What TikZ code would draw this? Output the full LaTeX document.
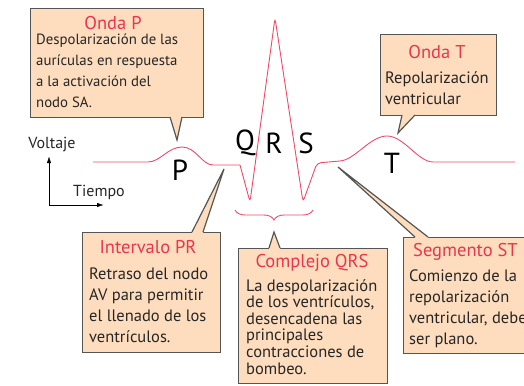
\documentclass[tikz,border=0pt]{standalone}
\usepackage{fontspec}
\setmainfont{PT Sans}
\usetikzlibrary{arrows.meta,positioning,calc,decorations.pathreplacing}
\definecolor{ecgred}{HTML}{EE4A68}
\definecolor{titred}{HTML}{E8364F}
\definecolor{peach}{HTML}{FDDDBD}
\definecolor{boxgray}{HTML}{555555}
\definecolor{txtgray}{HTML}{262626}

\begin{document}
\begin{tikzpicture}[
    x=1pt, y=-1pt,
    bubble/.style={draw=boxgray, line width=1.2pt, fill=peach, anchor=north west, inner sep=0pt},
    linea/.style={draw=boxgray, line width=1.2pt, line join=miter},
    titulo/.style={text=titred, font=\fontsize{18.5}{20}\selectfont, inner sep=0pt},
    cuerpo/.style={text=txtgray, font=\fontsize{16.5}{21}\selectfont, align=left, anchor=north west, inner sep=0pt},
    onda/.style={font=\fontsize{29}{30}\selectfont, inner sep=0pt},
    eje/.style={font=\fontsize{16}{18}\selectfont, text=txtgray, inner sep=0pt}
]
\clip (0,0) rectangle (524,385);

% trazo del ECG
\draw[ecgred, line width=0.9pt] (93,162) -- (148,162)
    .. controls (160,162) and (168,147) .. (182,147)
    .. controls (196,147) and (202,165) .. (213,165) -- (240,165);
\draw[ecgred, line width=0.9pt, rounded corners=4pt] (240,165) -- (250,202) -- (275,18) -- (303,202) -- (317,163) -- (340,161);
\draw[ecgred, line width=0.9pt] (340,161)
    .. controls (355,160) and (370,136) .. (387,136)
    .. controls (404,136) and (418,162) .. (433,162) -- (515,162);

% letras de las ondas
\node[onda] (lP) at (180,170) {P};
\node[onda] (lQ) at (245,143) {Q};
\node[onda] (lR) at (274,143) {R};
\node[onda] (lS) at (306,143) {S};
\node[onda] (lT) at (392,163) {T};

% llave del complejo QRS
\draw[ecgred, line width=0.9pt, decorate, decoration={brace, mirror, amplitude=10pt}] (235,210) -- (313,210);

% ejes
\coordinate (ejeO) at (49,205);
\coordinate (ejeV) at (49,157);
\coordinate (ejeH) at (103,205);
\draw[-{Triangle[length=6pt,width=4pt]}] (ejeO) -- (ejeV);
\draw[-{Triangle[length=6pt,width=4pt]}] (ejeO) -- (ejeH);
\node[eje] (volt) at (52,145) {Voltaje};
\node[eje] (tiem) at (99,192) {Tiempo};

% Onda P
\node[bubble, minimum width=173pt, minimum height=109pt] (bP) at (30,8) {};
\coordinate (tipP) at (177,140);
\fill[peach] (170,114) -- (170,117) -- (tipP) -- (182,117) -- (182,114) -- cycle;
\draw[linea] (170,117) -- (tipP) -- (182,117);
\node[titulo] (tP) at (113,23) {Onda P};
\node[cuerpo, font=\fontsize{14.8}{21}\selectfont] (cP) at (36,34) {Despolarización de las\\aurículas en respuesta\\a la activación del\\nodo SA.};

% Onda T
\node[bubble, minimum width=116pt, minimum height=81pt] (bT) at (380,34) {};
\coordinate (tipT) at (398,133);
\fill[peach] (402,112) -- (402,115) -- (tipT) -- (415,115) -- (415,112) -- cycle;
\draw[linea] (402,115) -- (tipT) -- (415,115);
\node[titulo] (tT) at (437,52) {Onda T};
\node[cuerpo] (cT) at (385,71) {Repolarización\\ventricular};

% Intervalo PR
\node[bubble, minimum width=138pt, minimum height=120pt] (bPR) at (82,232) {};
\coordinate (tipPR) at (224,169);
\fill[peach] (192,235) -- (192,232) -- (tipPR) -- (203,232) -- (203,235) -- cycle;
\draw[linea] (192,232) -- (tipPR) -- (203,232);
\node[titulo] (tPR) at (148,247) {Intervalo PR};
\node[cuerpo] (cPR) at (89,268) {Retraso del nodo\\AV para permitir\\el llenado de los\\ventrículos.};

% Complejo QRS
\node[bubble, minimum width=149pt, minimum height=135pt] (bQRS) at (238,248) {};
\coordinate (tipQRS) at (274,232);
\fill[peach] (269,251) -- (269,248) -- (tipQRS) -- (280,248) -- (280,251) -- cycle;
\draw[linea] (269,248) -- (tipQRS) -- (280,248);
\node[titulo] (tQRS) at (312,263) {Complejo QRS};
\node[cuerpo, font=\fontsize{16.5}{16.6}\selectfont] (cQRS) at (246,279) {La despolarización\\de los ventrículos,\\desencadena las\\principales\\contracciones de\\bombeo.};

% Segmento ST
\node[bubble, minimum width=140pt, minimum height=116pt] (bST) at (403,237) {};
\coordinate (tipST) at (338,167);
\fill[peach] (415,240) -- (415,237) -- (tipST) -- (428,237) -- (428,240) -- cycle;
\draw[linea] (415,237) -- (tipST) -- (428,237);
\node[titulo, anchor=west] (tST) at (413,252) {Segmento ST};
\node[cuerpo] (cST) at (409,270) {Comienzo de la\\repolarización\\ventricular, debe\\ser plano.};

\end{tikzpicture}
\end{document}
